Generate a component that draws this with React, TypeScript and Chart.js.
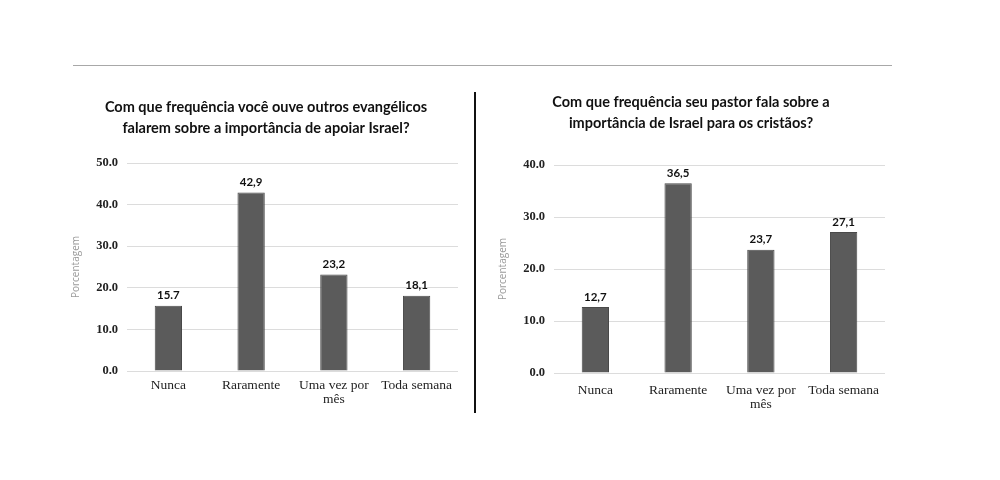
import React, { useEffect, useRef } from "react";
import { Chart, registerables } from "chart.js";

Chart.register(...registerables);

const categories: (string | string[])[] = ["Nunca", "Raramente", ["Uma vez por", "mês"], "Toda semana"];

const leftTitle = ["Com que frequência você ouve outros evangélicos", "falarem sobre a importância de apoiar Israel?"];
const leftValues = [15.7, 42.9, 23.2, 18.1];
const leftLabels = ["15.7", "42,9", "23,2", "18,1"];
const leftMax = 50;
const leftStep = 10;

const rightTitle = ["Com que frequência seu pastor fala sobre a", "importância de Israel para os cristãos?"];
const rightValues = [12.7, 36.5, 23.7, 27.1];
const rightLabels = ["12,7", "36,5", "23,7", "27,1"];
const rightMax = 40;
const rightStep = 10;

const yAxisTitle = "Porcentagem";

const valueLabelPlugin = {
  id: "valueLabels",
  afterLayout(chart: any) {
    const shift = chart.options.plugins.valueLabels.titleShift || 0;
    if (chart.titleBlock) {
      chart.titleBlock.left += shift;
      chart.titleBlock.right += shift;
    }
  },
  afterDatasetsDraw(chart: any) {
    const labels: string[] = chart.options.plugins.valueLabels.labels;
    const meta = chart.getDatasetMeta(0);
    const ctx = chart.ctx;
    ctx.save();
    ctx.font = "bold 11.5px Lato, 'Open Sans', sans-serif";
    ctx.fillStyle = "#111";
    ctx.textAlign = "center";
    ctx.textBaseline = "middle";
    meta.data.forEach((bar: any, i: number) => {
      ctx.fillText(labels[i], bar.x, bar.y - 10);
    });
    ctx.restore();
  },
};

type Props = {
  title: string[];
  values: number[];
  labels: string[];
  max: number;
  step: number;
  left: number;
  top: number;
  width: number;
  height: number;
  yWidth: number;
  titlePadTop: number;
  titlePadBottom: number;
  titleShift: number;
  xPad: number;
};

function BarChart(p: Props) {
  const ref = useRef<HTMLCanvasElement | null>(null);
  useEffect(() => {
    if (!ref.current) return;
    const chart = new Chart(ref.current, {
      type: "bar",
      data: {
        labels: categories as any,
        datasets: [
          {
            data: p.values,
            backgroundColor: "#5b5b5b",
            borderColor: "#4a4a4a",
            borderWidth: 1,
            barPercentage: 0.33,
            categoryPercentage: 1,
          },
        ],
      },
      plugins: [valueLabelPlugin],
      options: {
        responsive: false,
        animation: false,
        devicePixelRatio: 1,
        layout: { padding: { left: 0, right: 12, top: 0, bottom: 0 } },
        plugins: {
          legend: { display: false },
          tooltip: { enabled: false },
          title: {
            display: true,
            text: p.title,
            color: "#111",
            font: { family: "Lato, 'Open Sans', sans-serif", size: 14.5, weight: "bold", lineHeight: 1.5 },
            padding: { top: p.titlePadTop, bottom: p.titlePadBottom },
          },
          valueLabels: { labels: p.labels, titleShift: p.titleShift },
        } as any,
        scales: {
          x: {
            grid: { display: false, drawTicks: false },
            border: { display: false },
            ticks: {
              color: "#222",
              padding: p.xPad,
              maxRotation: 0,
              autoSkip: false,
              font: { family: "'Liberation Serif', 'DejaVu Serif', serif", size: 13.5, lineHeight: 1.0 },
            },
            afterFit(scale: any) {
              scale.height = 40;
            },
          },
          y: {
            min: 0,
            max: p.max,
            grid: { color: "#dcdcdc", lineWidth: 1, drawTicks: false },
            border: { display: false },
            ticks: {
              stepSize: p.step,
              padding: 9,
              color: "#222",
              font: { family: "'Liberation Serif', 'DejaVu Serif', serif", size: 12.5, weight: "bold" },
              callback: (v: any) => Number(v).toFixed(1),
            },
            title: {
              display: true,
              text: yAxisTitle,
              color: "#9a9a9a",
              font: { family: "'Open Sans', sans-serif", size: 10 },
              padding: { top: 10, bottom: 0 },
            },
            afterFit(scale: any) {
              scale.width = p.yWidth;
            },
          },
        },
      } as any,
    });
    return () => chart.destroy();
  }, []);
  return (
    <canvas
      ref={ref}
      width={p.width}
      height={p.height}
      style={{ position: "absolute", left: p.left, top: p.top, width: p.width, height: p.height }}
    />
  );
}

export default function App() {
  return (
    <div style={{ position: "absolute", left: 0, top: 0, width: 1000, height: 480, background: "#fff", overflow: "hidden" }}>
      <div style={{ position: "absolute", left: 73, top: 65, width: 819, height: 1, background: "#a8a8a8" }} />
      <div style={{ position: "absolute", left: 474, top: 92, width: 2, height: 321, background: "#111" }} />
      <BarChart
        title={leftTitle}
        values={leftValues}
        labels={leftLabels}
        max={leftMax}
        step={leftStep}
        left={60}
        top={85}
        width={410}
        height={326}
        yWidth={67}
        titlePadTop={11}
        titlePadBottom={23.5}
        titleShift={7}
        xPad={8}
      />
      <BarChart
        title={rightTitle}
        values={rightValues}
        labels={rightLabels}
        max={rightMax}
        step={rightStep}
        left={487}
        top={80}
        width={410}
        height={333}
        yWidth={67}
        titlePadTop={11}
        titlePadBottom={30.5}
        titleShift={5}
        xPad={11}
      />
    </div>
  );
}
